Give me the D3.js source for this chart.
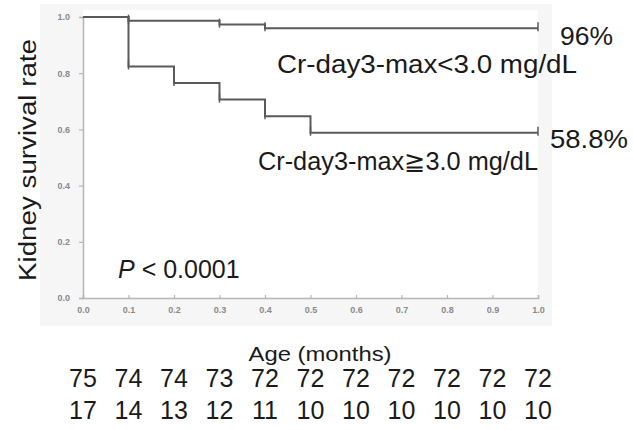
<!DOCTYPE html>
<html>
<head>
<meta charset="utf-8">
<script src="https://cdn.jsdelivr.net/npm/d3@7"></script>
<style>
  body { margin: 0; background: #fff; }
  svg { display: block; font-family: Arial, 'Liberation Sans', sans-serif; }
</style>
</head>
<body>
<div id="chart"></div>
<script>
// Kaplan-Meier kidney survival, two Cr-day3-max groups

const lowTimes  = [0, 0.1, 0.3, 0.4, 1.0];
const lowSurv   = [1, 0.987, 0.973, 0.96, 0.96];
const highTimes = [0, 0.1, 0.2, 0.3, 0.4, 0.5, 1.0];
const highSurv  = [1, 0.824, 0.765, 0.706, 0.647, 0.588, 0.588];

const riskTimes = [0, 0.1, 0.2, 0.3, 0.4, 0.5, 0.6, 0.7, 0.8, 0.9, 1.0];
const riskLow   = [75, 74, 74, 73, 72, 72, 72, 72, 72, 72, 72];
const riskHigh  = [17, 14, 13, 12, 11, 10, 10, 10, 10, 10, 10];

const yTicks = [0, 0.2, 0.4, 0.6, 0.8, 1.0];

const W = 633, H = 430;
const svg = d3.select('#chart').append('svg')
  .attr('width', W).attr('height', H);

const x = d3.scaleLinear().domain([0, 1]).range([83, 538]);
const y = d3.scaleLinear().domain([0, 1]).range([298, 17]);

// faint grey panel behind the plot, white plotting area
svg.append('rect')
  .attr('x', 40).attr('y', 4).attr('width', 512).attr('height', 322)
  .attr('fill', '#f6f6f6');
svg.append('rect')
  .attr('x', x(0)).attr('y', 10).attr('width', x(1) - x(0)).attr('height', y(0) - 10)
  .attr('fill', '#fff');

// axes
const xAxis = svg.append('g')
  .attr('transform', `translate(0,${y(0)})`)
  .call(d3.axisBottom(x).tickValues(riskTimes).tickFormat(d3.format('.1f')).tickSize(-3).tickPadding(9));
const yAxis = svg.append('g')
  .attr('transform', `translate(${x(0)},0)`)
  .call(d3.axisLeft(y).tickValues(yTicks).tickFormat(d3.format('.1f')).tickSize(4).tickPadding(9));

[xAxis, yAxis].forEach(a => {
  a.select('.domain').attr('stroke', '#b5b5b5').attr('stroke-width', 1.5);
  a.selectAll('.tick line').attr('stroke', '#b5b5b5').attr('stroke-width', 1.2);
  a.selectAll('.tick text')
    .attr('fill', '#8a8a8a')
    .attr('font-size', 9)
    .attr('font-weight', 'bold')
    .attr('font-family', 'Arial, sans-serif');
});

// survival curves
const line = d3.line()
  .x(d => x(d[0]))
  .y(d => y(d[1]))
  .curve(d3.curveStepAfter);

function drawCurve(times, surv) {
  const pts = times.map((t, i) => [t, surv[i]]);
  svg.append('path')
    .attr('d', line(pts))
    .attr('fill', 'none')
    .attr('stroke', '#5a5a5a')
    .attr('stroke-width', 2);
  // censor marks
  pts.slice(1).forEach(p => {
    svg.append('line')
      .attr('x1', x(p[0])).attr('x2', x(p[0]))
      .attr('y1', y(p[1]) - 6).attr('y2', y(p[1]) + 3)
      .attr('stroke', '#5a5a5a')
      .attr('stroke-width', 1.5);
  });
}
drawCurve(lowTimes, lowSurv);
drawCurve(highTimes, highSurv);

// labels
function label(txt, px, py, size, len) {
  const t = svg.append('text')
    .attr('x', px).attr('y', py)
    .attr('font-size', size)
    .attr('fill', '#1a1a1a')
    .text(txt);
  if (len) t.attr('textLength', len).attr('lengthAdjust', 'spacingAndGlyphs');
  return t;
}

label('96%', 560, 45, 25, 53);
label('Cr-day3-max<3.0 mg/dL', 277, 73, 25, 300);
label('58.8%', 550, 148, 25, 78);
label('Cr-day3-max\u22673.0 mg/dL', 258, 170, 25, 280);

const pTxt = svg.append('text')
  .attr('x', 118).attr('y', 278)
  .attr('font-size', 25)
  .attr('fill', '#1a1a1a');
pTxt.append('tspan').attr('font-style', 'italic').text('P');
pTxt.append('tspan').text(' < 0.0001');

svg.append('text')
  .attr('transform', `translate(36,${(38 + 282) / 2}) rotate(-90)`)
  .attr('text-anchor', 'middle')
  .attr('font-size', 23)
  .attr('fill', '#1a1a1a')
  .attr('textLength', 242)
  .attr('lengthAdjust', 'spacingAndGlyphs')
  .text('Kidney survival rate');

svg.append('text')
  .attr('x', 320).attr('y', 361)
  .attr('text-anchor', 'middle')
  .attr('font-size', 21)
  .attr('fill', '#1a1a1a')
  .attr('textLength', 143)
  .attr('lengthAdjust', 'spacingAndGlyphs')
  .text('Age (months)');

// numbers at risk
[[riskLow, 387], [riskHigh, 419]].forEach(([row, py]) => {
  svg.append('g').selectAll('text')
    .data(row)
    .join('text')
    .attr('x', (d, i) => x(riskTimes[i]))
    .attr('y', py)
    .attr('text-anchor', 'middle')
    .attr('font-size', 25)
    .attr('fill', '#1a1a1a')
    .text(d => d);
});
</script>
</body>
</html>
